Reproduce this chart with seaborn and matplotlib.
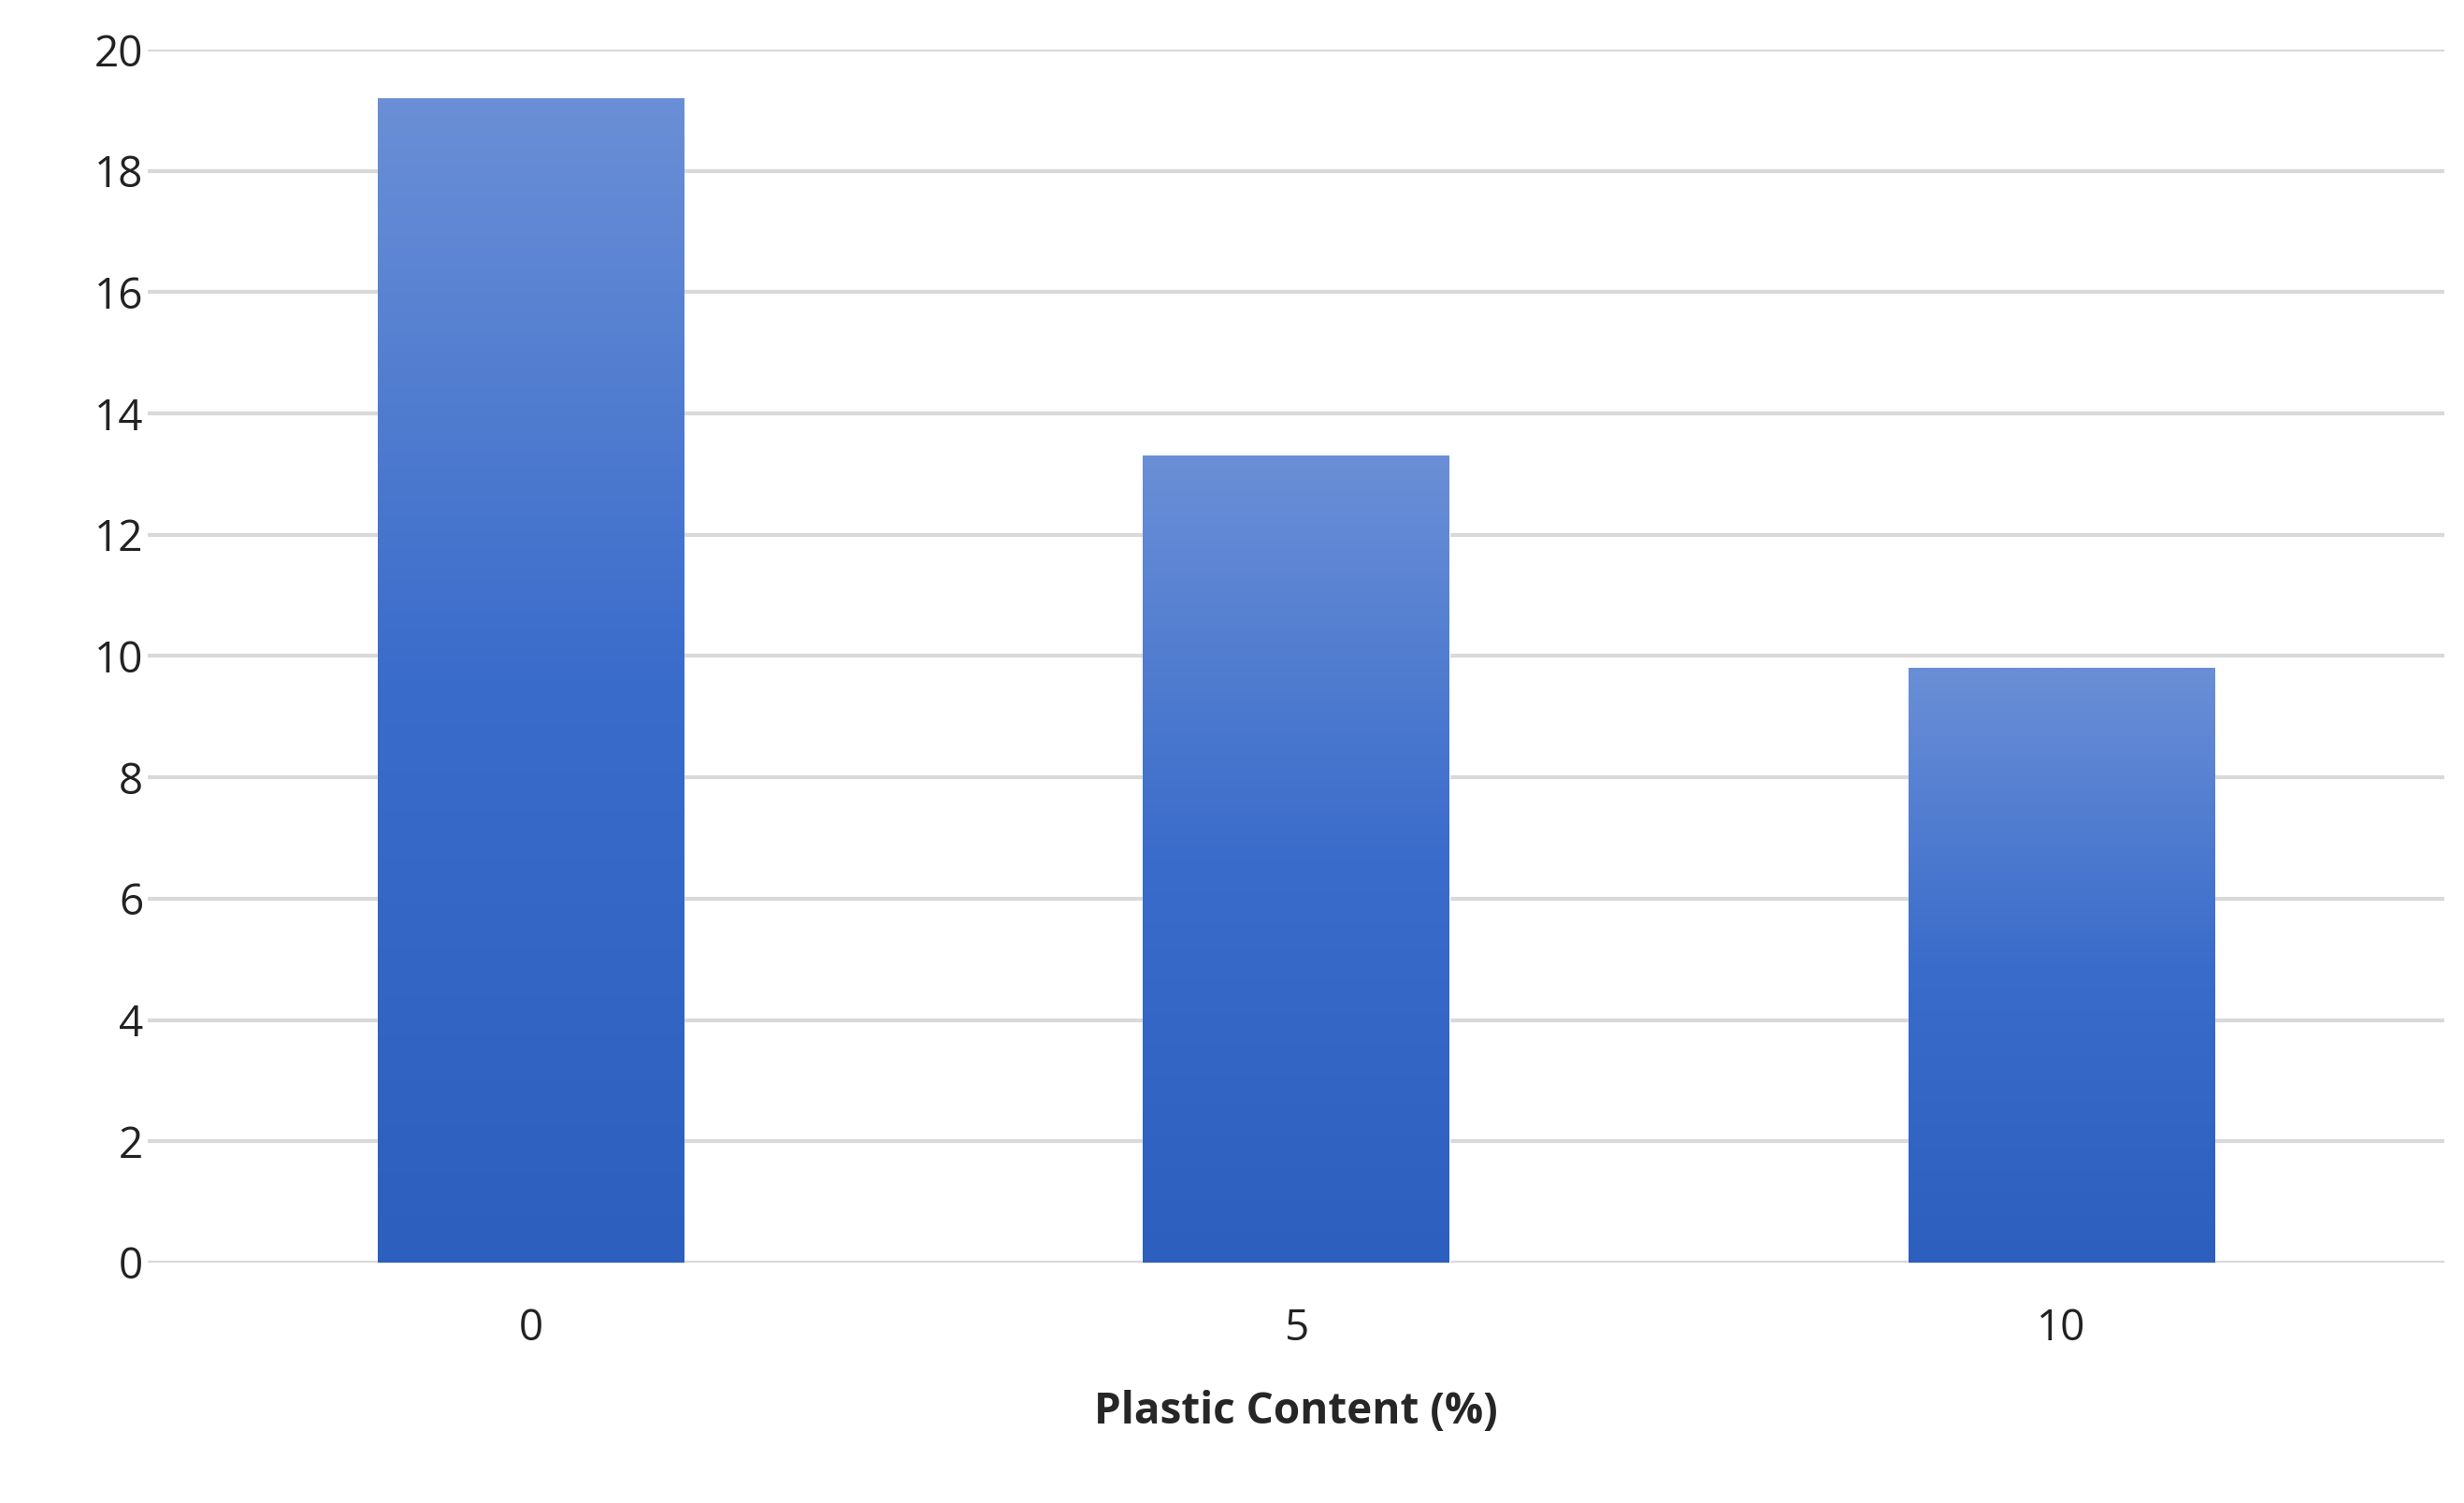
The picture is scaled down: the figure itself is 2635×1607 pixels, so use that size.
import numpy as np
import pandas as pd
import matplotlib.pyplot as plt
import seaborn as sns
from matplotlib.colors import LinearSegmentedColormap

# Daten
content = ['0', '5', '10']
values = [19.2, 13.3, 9.8]

df = pd.DataFrame({'content': content, 'value': values})

sns.set_style('white')
plt.rcParams['font.family'] = ['Open Sans', 'DejaVu Sans']

fig = plt.figure(figsize=(26.35, 16.07), dpi=100)
ax = fig.add_axes([0.06, 0.16, 0.932, 0.807])

sns.barplot(x='content', y='value', data=df, color='#3f6fcc', width=0.4, ax=ax, zorder=2)

ax.set_ylim(0, 20)
ax.set_yticks(range(0, 21, 2))
ax.set_xlim(-0.5, 2.5)

# Farbverlauf in den Balken
cmap = LinearSegmentedColormap.from_list('grad', ['#2c5fbe', '#3a6ccb', '#6a8fd6'])
grad = np.linspace(0, 1, 256).reshape(-1, 1)
for bar in ax.patches:
    x0, y0 = bar.get_x(), bar.get_y()
    w, h = bar.get_width(), bar.get_height()
    im = ax.imshow(grad, cmap=cmap, origin='lower', aspect='auto',
                   extent=[x0, x0 + w, y0, y0 + h], zorder=3)
    im.set_clip_path(bar)
    bar.set_facecolor('none')

ax.yaxis.grid(True, color='#d9d9d9', linewidth=3, zorder=0)
ax.set_axisbelow(True)
for s in ax.spines.values():
    s.set_visible(False)
ax.tick_params(axis='both', length=0, labelsize=33, colors='#222222')
ax.tick_params(axis='x', pad=35)
ax.set_ylabel('')
ax.set_xlabel('Plastic Content (%)', fontsize=33, fontweight='bold', labelpad=30)

fig.savefig('out.png', dpi=100)
